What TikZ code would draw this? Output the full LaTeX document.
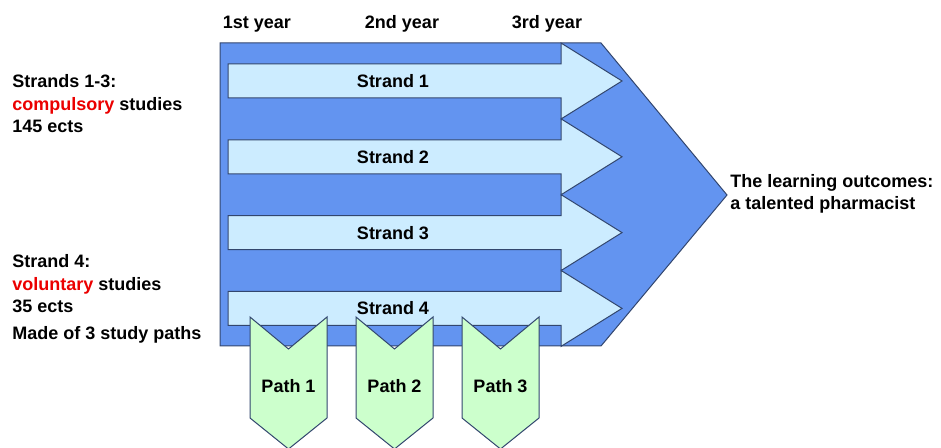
\documentclass[tikz,border=0pt]{standalone}
\usepackage{fontspec}
\setmainfont{Liberation Sans}
\definecolor{bigblue}{RGB}{99,148,240}
\definecolor{paleblue}{RGB}{204,236,255}
\definecolor{palegreen}{RGB}{204,255,204}
\definecolor{edgecol}{RGB}{50,70,110}
\definecolor{hotred}{RGB}{235,0,0}
\begin{document}
\begin{tikzpicture}[x=0.75pt,y=0.75pt,yscale=-1,xscale=1,
	outl/.style={draw=edgecol,line width=0.75pt,line join=miter},
	txt/.style={inner sep=0pt,font=\fontsize{13.5}{16.9}\selectfont\bfseries},
	]
	\useasboundingbox (0,0) rectangle (941,448);
	
	%Big arrow
	\draw [outl,fill=bigblue] (220,43) -- (601,43) -- (727,195) -- (601,346) -- (220,346) -- cycle;
	
	%Strand arrows
	\foreach \c in {81,156.8,232.6,308.4} {
		\draw [outl,fill=paleblue] (228,\c-17) -- (561,\c-17) -- (561,\c-38) -- (622,\c) -- (561,\c+38) -- (561,\c+17) -- (228,\c+17) -- cycle;
	}
	
	%Study paths
	\foreach \x [count=\i] in {288.5,394.5,500.5} {
		\draw [outl,fill=palegreen] (\x-38.5,317) -- (\x,349) -- (\x+38.5,317) -- (\x+38.5,418) -- (\x,449) -- (\x-38.5,418) -- cycle;
		\node [txt] (path\i) at (\x,386) {Path \i};
	}
	
	% Strand labels
	\foreach \c [count=\i] in {81,156.8,232.6,308.4} {
		\node [txt] (strand\i) at (393,\c) {Strand \i};
	}
	
	% Years
	\node [txt,anchor=base] (year1) at (257,29) {1st year};
	\node [txt,anchor=base] (year2) at (402,29) {2nd year};
	\node [txt,anchor=base] (year3) at (547,29) {3rd year};
	
	% Left texts (base = last line)
	\node [txt,anchor=base west,align=left] (compulsory) at (12,133) {Strands 1-3:\\\textcolor{hotred}{compulsory} studies\\145 ects};
	\node [txt,anchor=base west,align=left] (voluntary) at (12,313) {Strand 4:\\\textcolor{hotred}{voluntary} studies\\35 ects};
	\node [txt,anchor=base west] (madeof) at (12,340) {Made of 3 study paths};
	
	% Outcome
	\node [txt,anchor=base west,align=left] (outcome) at (730,210) {The learning outcomes:\\a talented pharmacist};
	
\end{tikzpicture}
\end{document}
